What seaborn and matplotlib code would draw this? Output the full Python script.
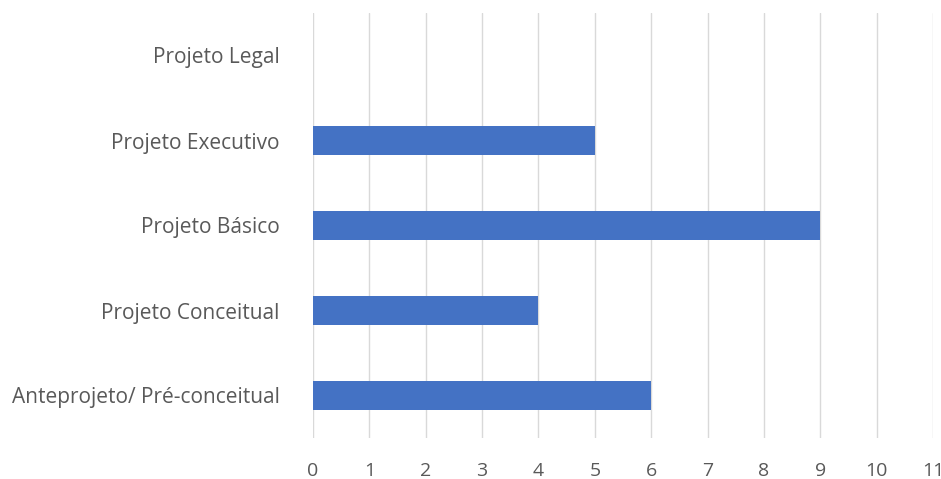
import matplotlib
matplotlib.use("Agg")
import matplotlib.pyplot as plt
import seaborn as sns
import pandas as pd

categories = ["Projeto Legal", "Projeto Executivo", "Projeto Básico",
              "Projeto Conceitual", "Anteprojeto/ Pré-conceitual"]
values = [0, 5, 9, 4, 6]
xticks = list(range(0, 12))

sns.set_style("white")
plt.rcParams['font.family'] = ['Open Sans', 'DejaVu Sans']

df = pd.DataFrame({"cat": categories, "val": values})

fig = plt.figure(figsize=(9.41, 4.79), dpi=100)
ax = fig.add_axes([313/941, 1-438/479, (933-313)/941, (438-13)/479])
sns.barplot(data=df, x="val", y="cat", orient="h", color="#4472C4",
            width=0.35, saturation=1, ax=ax, zorder=3, linewidth=0)
ax.set_xlim(0, 11)
ax.set_ylim(4.5, -0.5)
ax.set_xticks(xticks)
ax.set_xticklabels([str(t) for t in xticks])
ax.grid(axis="x", color="#D9D9D9", linewidth=1, zorder=0)
ax.set_axisbelow(True)
for s in ax.spines.values():
    s.set_visible(False)
ax.set_xlabel("")
ax.set_ylabel("")
ax.tick_params(axis="both", length=0, colors="#595959")
ax.tick_params(axis="x", pad=17, labelsize=14)
ax.tick_params(axis="y", pad=24, labelsize=15)
fig.savefig("out.png", dpi=100)
